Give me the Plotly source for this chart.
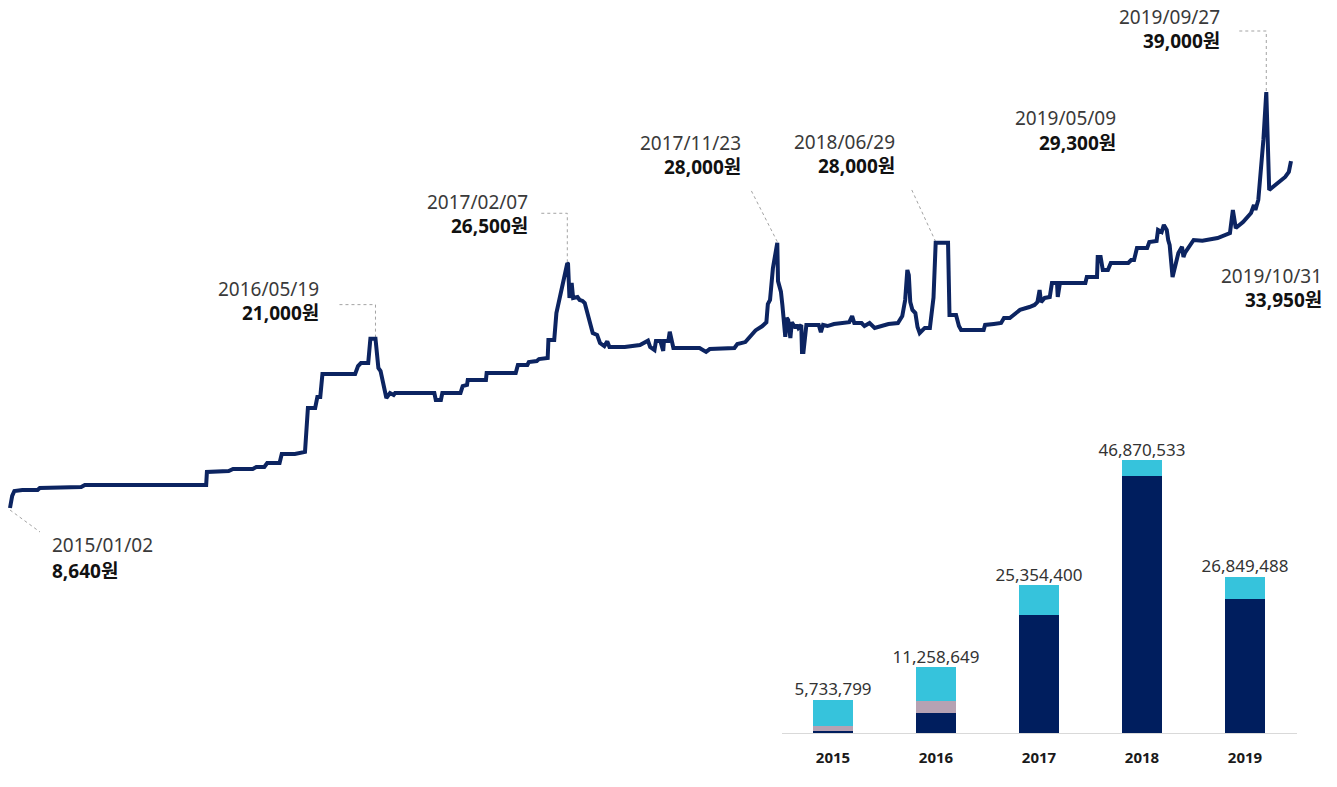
import plotly.graph_objects as go

# ---- daily closing price (KRW), turning points of the series ----
price_dates = [
    "2015-01-02", "2015-01-05", "2015-01-08", "2015-01-19", "2015-02-09", "2015-02-12",
    "2015-04-10", "2015-04-15", "2015-09-29", "2015-09-30", "2015-10-30", "2015-11-05",
    "2015-12-02", "2015-12-07", "2015-12-18", "2015-12-22", "2016-01-08", "2016-01-11",
    "2016-01-29", "2016-02-12", "2016-02-16", "2016-02-26", "2016-02-29", "2016-03-04",
    "2016-03-07", "2016-04-21", "2016-04-25", "2016-04-29", "2016-05-09", "2016-05-12",
    "2016-05-19", "2016-05-23", "2016-05-26", "2016-05-31", "2016-06-03", "2016-06-08",
    "2016-06-13", "2016-06-15", "2016-08-08", "2016-08-10", "2016-08-17", "2016-08-19",
    "2016-09-13", "2016-09-16", "2016-09-22", "2016-09-23", "2016-10-18", "2016-10-19",
    "2016-11-28", "2016-12-01", "2016-12-14", "2016-12-16", "2016-12-27", "2016-12-30",
    "2017-01-11", "2017-01-12", "2017-01-20", "2017-01-23", "2017-02-01", "2017-02-07",
    "2017-02-08", "2017-02-10", "2017-02-13", "2017-02-15", "2017-02-21", "2017-02-24",
    "2017-02-28", "2017-03-03", "2017-03-10", "2017-03-14", "2017-03-20", "2017-03-24",
    "2017-03-30", "2017-04-03", "2017-04-06", "2017-04-27", "2017-05-18", "2017-05-29",
    "2017-06-01", "2017-06-07", "2017-06-09", "2017-06-15", "2017-06-19", "2017-06-20",
    "2017-06-26", "2017-06-28", "2017-07-03", "2017-08-08", "2017-08-17", "2017-08-22",
    "2017-09-25", "2017-09-29", "2017-10-10", "2017-10-17", "2017-10-24", "2017-11-02",
    "2017-11-08", "2017-11-10", "2017-11-13", "2017-11-17", "2017-11-23", "2017-11-24",
    "2017-11-28", "2017-11-30", "2017-12-04", "2017-12-06", "2017-12-08", "2017-12-11",
    "2017-12-13", "2017-12-18", "2017-12-20", "2017-12-22", "2017-12-26", "2017-12-27",
    "2017-12-29", "2018-01-02", "2018-01-19", "2018-01-22", "2018-01-25", "2018-01-31",
    "2018-02-09", "2018-03-02", "2018-03-06", "2018-03-09", "2018-03-19", "2018-03-23",
    "2018-03-30", "2018-04-06", "2018-04-16", "2018-04-25", "2018-05-08", "2018-05-14",
    "2018-05-18", "2018-05-21", "2018-05-23", "2018-05-25", "2018-05-28", "2018-06-01",
    "2018-06-04", "2018-06-07", "2018-06-14", "2018-06-21", "2018-06-26", "2018-06-29",
    "2018-07-16", "2018-07-18", "2018-07-27", "2018-07-31", "2018-08-03", "2018-09-03",
    "2018-09-05", "2018-09-12", "2018-09-17", "2018-09-27", "2018-10-01", "2018-10-09",
    "2018-10-16", "2018-10-23", "2018-11-05", "2018-11-12", "2018-11-16", "2018-11-19",
    "2018-11-21", "2018-11-26", "2018-12-03", "2018-12-06", "2018-12-13", "2018-12-14",
    "2018-12-17", "2019-01-21", "2019-01-23", "2019-02-06", "2019-02-07", "2019-02-11",
    "2019-02-14", "2019-02-21", "2019-02-25", "2019-03-21", "2019-03-25", "2019-03-29",
    "2019-04-02", "2019-04-16", "2019-04-19", "2019-04-29", "2019-05-01", "2019-05-06",
    "2019-05-09", "2019-05-13", "2019-05-15", "2019-05-17", "2019-05-21", "2019-05-23",
    "2019-05-27", "2019-05-29", "2019-06-03", "2019-06-05", "2019-06-07", "2019-06-12",
    "2019-06-19", "2019-07-01", "2019-07-22", "2019-08-08", "2019-08-12", "2019-08-16",
    "2019-08-26", "2019-09-06", "2019-09-10", "2019-09-12", "2019-09-16", "2019-09-23",
    "2019-09-27", "2019-10-01", "2019-10-09", "2019-10-16", "2019-10-23", "2019-10-28",
    "2019-10-31",
]
price_values = [
    8640, 9520, 9880, 9950, 9950, 10100,
    10170, 10320, 10320, 11270, 11340, 11490,
    11490, 11630, 11630, 11920, 11920, 12580,
    12580, 12730, 15940, 15940, 16740, 16740,
    18420, 18420, 19000, 19220, 19220, 21000,
    21000, 18860, 18640, 17180, 16670, 17030,
    16890, 17030, 17030, 16520, 16520, 17030,
    17030, 17540, 17620, 17980, 17980, 18490,
    18490, 19080, 19080, 19290, 19370, 19510,
    19590, 20900, 20900, 22870, 24910, 26500,
    26450, 23970, 25060, 23970, 24040, 23820,
    23750, 23600, 22140, 21410, 21270, 20680,
    20460, 20800, 20390, 20390, 20540, 20850,
    20390, 20170, 20830, 20830, 20100, 20830,
    20830, 21500, 20320, 20320, 20030, 20240,
    20320, 20610, 20750, 21140, 21600, 21900,
    22200, 23530, 23820, 26150, 28000, 25200,
    24430, 23450, 21140, 22510, 22360, 21050,
    22200, 21780, 22000, 21780, 22000, 20030,
    20030, 22000, 22000, 21480, 22000, 21920,
    22070, 22200, 22650, 22140, 22140, 21920,
    22140, 21780, 21920, 22070, 22140, 22650,
    23820, 26010, 25640, 23680, 23090, 22870,
    21850, 21410, 21780, 21780, 24000, 28000,
    28000, 22720, 22720, 21920, 21630, 21630,
    22000, 22000, 22070, 22140, 22510, 22510,
    22800, 23100, 23310, 23460, 23670, 24550,
    23670, 23970, 24040, 25060, 25060, 24040,
    25060, 25060, 25500, 25500, 26960, 26960,
    26010, 26010, 26520, 26520, 26740, 26740,
    27610, 27610, 28050, 28130, 28930, 28780,
    29300, 28930, 28200, 27830, 25500, 26000,
    26960, 27250, 27710, 26960, 27250, 27690,
    28200, 28150, 28340, 28710, 30390, 29070,
    29510, 30170, 30750, 30390, 31120, 35500,
    39000, 31850, 32210, 32580, 32800, 33160,
    33950,
]

# ---- called-out prices ----
callout_dates = ["2015-01-02", "2016-05-19", "2017-02-07", "2017-11-23",
                 "2018-06-29", "2019-05-09", "2019-09-27", "2019-10-31"]
callout_prices = [8640, 21000, 26500, 28000, 28000, 29300, 39000, 33950]

# ---- yearly trading volume (KRW), stacked by group ----
years = ["2015", "2016", "2017", "2018", "2019"]
volume_navy = [400000, 3380000, 20260000, 44120000, 23000000]
volume_mauve = [800000, 2170000, 0, 0, 0]
volume_cyan = [4533799, 5708649, 5094400, 2750533, 3849488]
volume_totals = [5733799, 11258649, 25354400, 46870533, 26849488]

W, H = 1337, 787
FONT = "Noto Sans, Noto Sans CJK KR, sans-serif"
LINE_COLOR = "#0c2461"
NAVY = "#001e5e"
MAUVE = "#b6a2b3"
CYAN = "#36c3dc"
LEADER = "#a3a3a3"


def fx(px):
    return px / W


def fy(py):
    return 1 - py / H


fig = go.Figure()

fig.add_trace(go.Scatter(
    x=price_dates, y=price_values, mode="lines",
    line=dict(color=LINE_COLOR, width=4),
    xaxis="x", yaxis="y", hoverinfo="skip", showlegend=False,
))

for vals, col in ((volume_navy, NAVY), (volume_mauve, MAUVE), (volume_cyan, CYAN)):
    fig.add_trace(go.Bar(
        x=years, y=vals, marker=dict(color=col, line=dict(width=0)),
        xaxis="x2", yaxis="y2", hoverinfo="skip", showlegend=False,
    ))

fig.add_trace(go.Scatter(
    x=years, y=volume_totals, mode="text",
    text=[f"{v:,}" for v in volume_totals],
    textposition="top center",
    textfont=dict(family=FONT, size=17, color="#333333"),
    xaxis="x2", yaxis="y2", hoverinfo="skip", showlegend=False,
))

# label placement: (anchor x px, date-line centre y px, value-line centre y px, side)
label_layout = [
    (50, 545, 571, "left"),
    (321, 289, 313, "right"),
    (530, 202, 226, "right"),
    (743, 143, 167, "right"),
    (897, 142, 166, "right"),
    (1118, 118, 143, "right"),
    (1222, 17, 41, "right"),
    (1324, 276, 300, "right"),
]

annotations = []
for d, p, (ax, y1, y2, side) in zip(callout_dates, callout_prices, label_layout):
    annotations.append(dict(
        xref="paper", yref="paper", x=fx(ax), y=fy(y1), xanchor=side, yanchor="middle",
        text=d.replace("-", "/"), showarrow=False,
        font=dict(family=FONT, size=19, color="#3a3a3a"),
    ))
    annotations.append(dict(
        xref="paper", yref="paper", x=fx(ax), y=fy(y2), xanchor=side, yanchor="middle",
        text=f"<b>{p:,}원</b>", showarrow=False,
        font=dict(family=FONT, size=19, color="#111111"),
    ))

# leader lines from the called-out points (pixel offsets, y pointing up)
leader_paths = {
    "2015-01-02": "M0,-2 L30,-24",
    "2016-05-19": "M0,1 V34 H-36",
    "2017-02-07": "M0,1 V50 H-27",
    "2017-11-23": "M0,1 L-27,54",
    "2018-06-29": "M0,1 L-24,53",
    "2019-09-27": "M0,1 V61 H-30",
}
shapes = []
for d, p in zip(callout_dates, callout_prices):
    if d in leader_paths:
        shapes.append(dict(
            type="path", xref="x", yref="y", xsizemode="pixel", ysizemode="pixel",
            xanchor=d, yanchor=p, path=leader_paths[d],
            line=dict(color=LEADER, width=1, dash="dot"), layer="below",
        ))

fig.update_layout(
    width=W, height=H, autosize=False,
    margin=dict(l=0, r=0, t=0, b=0, pad=0),
    paper_bgcolor="white", plot_bgcolor="rgba(0,0,0,0)",
    barmode="stack", bargap=0.61,
    showlegend=False,
    xaxis=dict(domain=[0, 1], type="date",
               range=["2014-12-19 05:41", "2020-01-02 07:26"],
               visible=False, fixedrange=True),
    yaxis=dict(domain=[0, 1], range=[-11721, 45714], visible=False, fixedrange=True),
    xaxis2=dict(domain=[fx(781.5), fx(1296.5)], anchor="y2", type="category",
                range=[-0.5, 4.5], showgrid=False, zeroline=False,
                showline=True, linecolor="#d9d9d9", linewidth=1,
                ticks="outside", ticklen=11, tickcolor="rgba(0,0,0,0)",
                tickfont=dict(family=FONT, size=15, color="#1a1a1a", weight="bold"),
                fixedrange=True),
    yaxis2=dict(domain=[fy(733), fy(403)], anchor="x2", range=[0, 56.66e6],
                visible=False, fixedrange=True),
    annotations=annotations,
    shapes=shapes,
)

fig.write_html("out.html")
